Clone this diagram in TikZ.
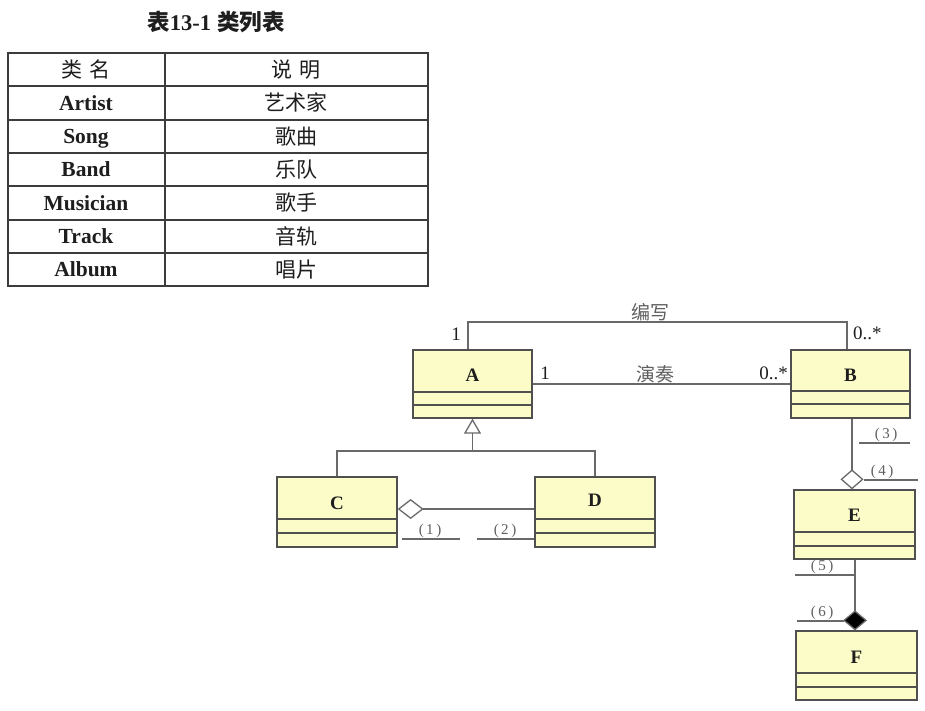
\documentclass[tikz,border=0pt]{standalone}
\usepackage{fontspec}
\setmainfont{Liberation Serif}
\newfontfamily\cjk{Noto Sans CJK SC}
\usetikzlibrary{arrows.meta}
\definecolor{boxfill}{RGB}{252,252,200}
\definecolor{boxline}{RGB}{80,80,80}
\definecolor{connc}{RGB}{105,105,105}
\definecolor{tabline}{RGB}{60,60,60}
\definecolor{txt}{RGB}{30,30,30}
\definecolor{lbl}{RGB}{95,95,95}
\tikzset{
  classbox/.style={draw=boxline, fill=boxfill, line width=1.3pt, inner sep=0pt, minimum width=#1},
  cname/.style={font=\fontsize{19}{19}\selectfont\bfseries, text=txt, inner sep=0pt},
  comp/.style={draw=boxline, line width=1.3pt},
  conn/.style={draw=connc, line width=1.3pt},
  mult/.style={font=\fontsize{19}{19}\selectfont, text=txt, inner sep=0pt},
  assoc/.style={font=\cjk\fontsize{19}{19}\selectfont, text=lbl, inner sep=0pt},
  blank/.style={font=\fontsize{15}{15}\selectfont, text=lbl, inner sep=0pt},
  blankline/.style={draw=connc, line width=1.1pt},
  tabgrid/.style={draw=tabline, line width=1.1pt},
  tabtxt/.style={font=\fontsize{21.5}{21.5}\selectfont\bfseries, text=txt, inner sep=0pt, anchor=base},
  tabcjk/.style={font=\cjk\fontsize{21}{21}\selectfont, text=txt, inner sep=0pt, anchor=base}
}
\begin{document}
\begin{tikzpicture}[x=1pt,y=-1pt]
\useasboundingbox[fill=white] (0,0) rectangle (925,710);
% ---------- table ----------
\node[font=\fontsize{22.5}{22.5}\selectfont\bfseries, text=txt, inner sep=0pt, anchor=base] (title) at (216,30) {{\cjk\bfseries 表}13-1\hspace{6pt}{\cjk\bfseries 类列表}};
\draw[tabgrid] (8,53) rectangle (428,286);
\draw[tabgrid] (165,53) -- (165,286);
\foreach \yy in {86,120,153,186,220,253} \draw[tabgrid] (8,\yy) -- (428,\yy);
\node[tabcjk] (h1) at (86,77) {类\,\,名};
\node[tabcjk] (h2) at (296,77) {说\,\,明};
\node[tabtxt] (r1) at (86,110) {Artist};
\node[tabcjk] (d1) at (296,110.5) {艺术家};
\node[tabtxt] (r2) at (86,143.5) {Song};
\node[tabcjk] (d2) at (296,144) {歌曲};
\node[tabtxt] (r3) at (86,176.5) {Band};
\node[tabcjk] (d3) at (296,177) {乐队};
\node[tabtxt] (r4) at (86,210) {Musician};
\node[tabcjk] (d4) at (296,210.5) {歌手};
\node[tabtxt] (r5) at (86,243.5) {Track};
\node[tabcjk] (d5) at (296,244) {音轨};
\node[tabtxt] (r6) at (86,276.5) {Album};
\node[tabcjk] (d6) at (296,277) {唱片};
% ---------- classes ----------
\node[classbox=119pt, minimum height=68pt] (A) at (472.5,384) {};
\draw[comp] (A.west |- 0,392) -- (A.east |- 0,392);
\draw[comp] (A.west |- 0,405) -- (A.east |- 0,405);
\node[cname] (An) at (472.5,375) {A};
\node[classbox=119pt, minimum height=68pt] (B) at (850.5,384) {};
\draw[comp] (B.west |- 0,391) -- (B.east |- 0,391);
\draw[comp] (B.west |- 0,404) -- (B.east |- 0,404);
\node[cname] (Bn) at (850.5,375) {B};
\node[classbox=120pt, minimum height=70pt] (C) at (337,512) {};
\draw[comp] (C.west |- 0,519) -- (C.east |- 0,519);
\draw[comp] (C.west |- 0,533) -- (C.east |- 0,533);
\node[cname] (Cn) at (337,503) {C};
\node[classbox=120pt, minimum height=70pt] (D) at (595,512) {};
\draw[comp] (D.west |- 0,519) -- (D.east |- 0,519);
\draw[comp] (D.west |- 0,533) -- (D.east |- 0,533);
\node[cname] (Dn) at (595,500) {D};
\node[classbox=121pt, minimum height=69pt] (E) at (854.5,524.5) {};
\draw[comp] (E.west |- 0,532) -- (E.east |- 0,532);
\draw[comp] (E.west |- 0,546) -- (E.east |- 0,546);
\node[cname] (En) at (854.5,515) {E};
\node[classbox=121pt, minimum height=69pt] (F) at (856.5,665.5) {};
\draw[comp] (F.west |- 0,673) -- (F.east |- 0,673);
\draw[comp] (F.west |- 0,687) -- (F.east |- 0,687);
\node[cname] (Fn) at (856.5,657) {F};
% ---------- associations A-B ----------
\coordinate (w1) at (468,322);
\coordinate (w2) at (847,322);
\draw[conn] (A.north -| w1) -- (w1) -- (w2) -- (B.north -| w2);
\node[assoc] (lw) at (650,312) {编写};
\node[mult] (m1) at (456,334) {1};
\node[mult, anchor=west] (m2) at (853,333) {0..*};
\draw[conn] (A.east) -- (B.west);
\node[assoc] (lp) at (655,374) {演奏};
\node[mult] (m3) at (545,373) {1};
\node[mult, anchor=east] (m4) at (788,373) {0..*};
% ---------- generalization ----------
\coordinate (g1) at (472.5,451);
\draw[conn, -{Triangle[open, length=15pt, width=17pt]}] (g1) -- (A.south);
\draw[conn] (C.north) |- (g1) -| (D.north);
% ---------- aggregation C-D ----------
\draw[conn, -{Diamond[open, length=26pt, width=20pt]}] (D.west |- 0,509) -- (C.east |- 0,509);
\coordinate (b1a) at (402,539); \coordinate (b1b) at (460,539);
\draw[blankline] (b1a) -- (b1b);
\node[blank] (t1) at (430,531) {(\,1\,)};
\coordinate (b2a) at (477,539);
\draw[blankline] (b2a) -- (D.west |- b2a);
\node[blank] (t2) at (505,531) {(\,2\,)};
% ---------- B - E aggregation ----------
\coordinate (be) at (852,0);
\draw[conn, -{Diamond[open, length=20pt, width=23pt]}] (B.south -| be) -- (E.north -| be);
\coordinate (b3a) at (859,443); \coordinate (b3b) at (910,443);
\draw[blankline] (b3a) -- (b3b);
\node[blank] (t3) at (886,435) {(\,3\,)};
\coordinate (b4a) at (864,480); \coordinate (b4b) at (918,480);
\draw[blankline] (b4a) -- (b4b);
\node[blank] (t4) at (882,472) {(\,4\,)};
% ---------- E - F composition ----------
\coordinate (ef) at (855,0);
\draw[conn, -{Diamond[length=20pt, width=24pt, fill=black]}] (E.south -| ef) -- (F.north -| ef);
\coordinate (b5a) at (795,575);
\draw[blankline] (b5a) -- (ef |- b5a);
\node[blank] (t5) at (822,567) {(\,5\,)};
\coordinate (b6a) at (797,621); \coordinate (b6b) at (844,621);
\draw[blankline] (b6a) -- (b6b);
\node[blank] (t6) at (822,613) {(\,6\,)};
\end{tikzpicture}
\end{document}
